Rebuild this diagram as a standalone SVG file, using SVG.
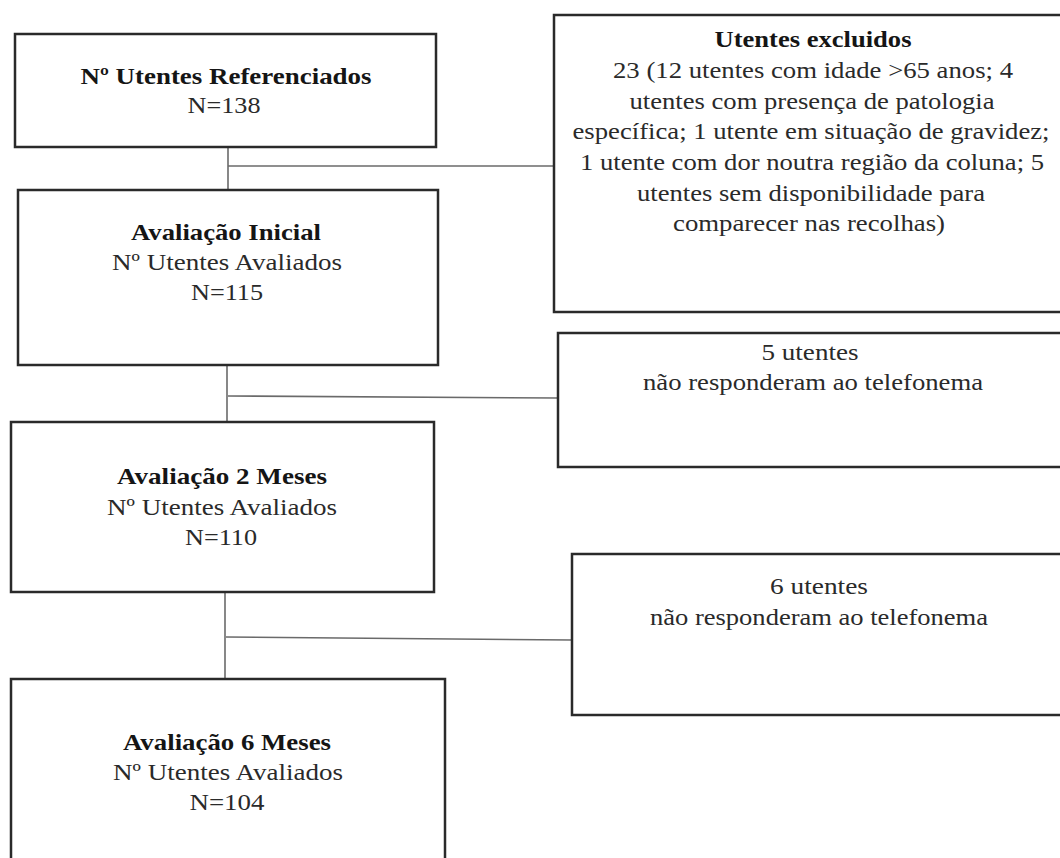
<svg xmlns="http://www.w3.org/2000/svg" width="1060" height="858" viewBox="0 0 1060 858">
<style>
.box{fill:#fff;stroke:#2a2a2a;stroke-width:2.5}
.conn{stroke:#6a6a6a;stroke-width:1.6;fill:none}
text{font-family:"Liberation Serif","Times New Roman",serif;font-size:23px;fill:#2a2a2a;text-anchor:middle}
.b{font-weight:bold;fill:#151515}
</style>
<rect width="1060" height="858" fill="#fff"/>
<g id="connectors">
<line class="conn" x1="228" y1="147" x2="228" y2="190"/>
<line class="conn" x1="228" y1="166" x2="554" y2="166"/>
<line class="conn" x1="227" y1="365" x2="227" y2="422"/>
<line class="conn" x1="228" y1="396" x2="558" y2="398"/>
<line class="conn" x1="225" y1="592" x2="225" y2="679"/>
<line class="conn" x1="226" y1="637" x2="572" y2="640"/>
</g>
<g id="n-referenciados">
<rect class="box" x="15" y="34" width="421" height="113"/>
<text class="b" x="226" y="84" textLength="291" lengthAdjust="spacingAndGlyphs">Nº Utentes Referenciados</text>
<text x="224" y="113" textLength="73" lengthAdjust="spacingAndGlyphs">N=138</text>
</g>
<g id="n-inicial">
<rect class="box" x="18" y="190" width="420" height="175"/>
<text class="b" x="226" y="240" textLength="190" lengthAdjust="spacingAndGlyphs">Avaliação Inicial</text>
<text x="227" y="270" textLength="230" lengthAdjust="spacingAndGlyphs">Nº Utentes Avaliados</text>
<text x="227" y="300" textLength="72" lengthAdjust="spacingAndGlyphs">N=115</text>
</g>
<g id="n-2meses">
<rect class="box" x="11" y="422" width="423" height="170"/>
<text class="b" x="222" y="484" textLength="210" lengthAdjust="spacingAndGlyphs">Avaliação 2 Meses</text>
<text x="222" y="515" textLength="230" lengthAdjust="spacingAndGlyphs">Nº Utentes Avaliados</text>
<text x="221" y="545" textLength="72" lengthAdjust="spacingAndGlyphs">N=110</text>
</g>
<g id="n-6meses">
<rect class="box" x="11" y="679" width="434" height="200"/>
<text class="b" x="227" y="750" textLength="208" lengthAdjust="spacingAndGlyphs">Avaliação 6 Meses</text>
<text x="228" y="780" textLength="230" lengthAdjust="spacingAndGlyphs">Nº Utentes Avaliados</text>
<text x="227" y="810" textLength="75" lengthAdjust="spacingAndGlyphs">N=104</text>
</g>
<g id="n-excluidos">
<rect class="box" x="554" y="15" width="520" height="297"/>
<text class="b" x="813" y="47" textLength="197" lengthAdjust="spacingAndGlyphs">Utentes excluidos</text>
<text x="813" y="78" textLength="400" lengthAdjust="spacingAndGlyphs">23 (12 utentes com idade &gt;65 anos; 4</text>
<text x="812" y="108.5" textLength="365" lengthAdjust="spacingAndGlyphs">utentes com presença de patologia</text>
<text x="811" y="139" textLength="477" lengthAdjust="spacingAndGlyphs">específica; 1 utente em situação de gravidez;</text>
<text x="812" y="170" textLength="464" lengthAdjust="spacingAndGlyphs">1 utente com dor noutra região da coluna; 5</text>
<text x="811" y="200.5" textLength="348" lengthAdjust="spacingAndGlyphs">utentes sem disponibilidade para</text>
<text x="809" y="231" textLength="272" lengthAdjust="spacingAndGlyphs">comparecer nas recolhas)</text>
</g>
<g id="n-5utentes">
<rect class="box" x="558" y="333" width="520" height="134"/>
<text x="810" y="360" textLength="97" lengthAdjust="spacingAndGlyphs">5 utentes</text>
<text x="813" y="390" textLength="340" lengthAdjust="spacingAndGlyphs">não responderam ao telefonema</text>
</g>
<g id="n-6utentes">
<rect class="box" x="572" y="554" width="520" height="161"/>
<text x="819" y="594" textLength="98" lengthAdjust="spacingAndGlyphs">6 utentes</text>
<text x="819" y="625" textLength="338" lengthAdjust="spacingAndGlyphs">não responderam ao telefonema</text>
</g>
</svg>
